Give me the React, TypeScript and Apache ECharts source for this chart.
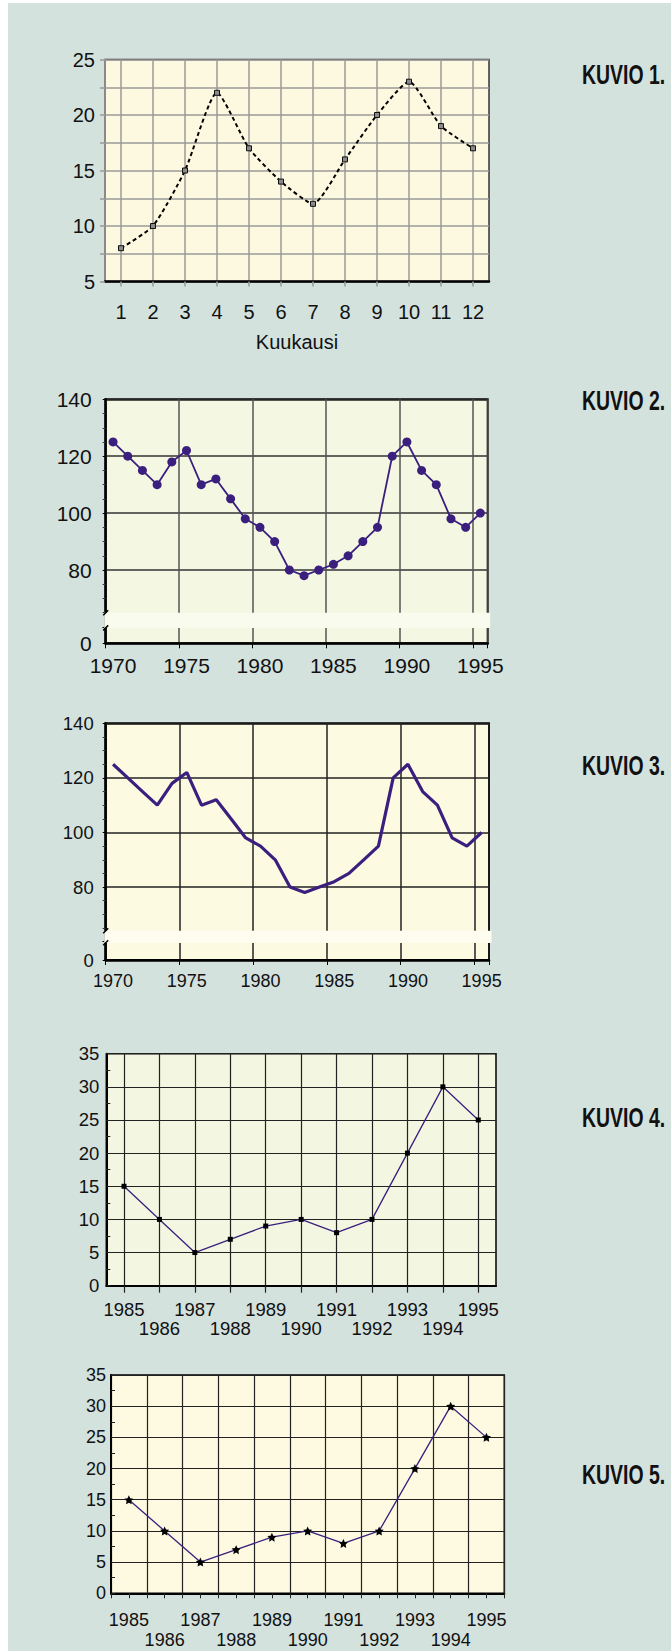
import React, { useEffect, useRef } from "react";
import * as echarts from "echarts";

// ---------- data ----------
const months = ["1", "2", "3", "4", "5", "6", "7", "8", "9", "10", "11", "12"];
const monthValues = [8, 10, 15, 22, 17, 14, 12, 16, 20, 23, 19, 17];
const monthAxisName = "Kuukausi";

const years7095 = [
  "1970", "1971", "1972", "1973", "1974", "1975", "1976", "1977", "1978", "1979",
  "1980", "1981", "1982", "1983", "1984", "1985", "1986", "1987", "1988", "1989",
  "1990", "1991", "1992", "1993", "1994", "1995",
];
const indexValues = [
  125, 120, 115, 110, 118, 122, 110, 112, 105, 98,
  95, 90, 80, 78, 80, 82, 85, 90, 95, 120,
  125, 115, 110, 98, 95, 100,
];
const indexUpperTicks = [80, 100, 120, 140];
const indexLowerTicks = [0];

const years8595 = ["1985", "1986", "1987", "1988", "1989", "1990", "1991", "1992", "1993", "1994", "1995"];
const rateValues = [15, 10, 5, 7, 9, 10, 8, 10, 20, 30, 25];

const titles = ["KUVIO 1.", "KUVIO 2.", "KUVIO 3.", "KUVIO 4.", "KUVIO 5."];

// ---------- layout / style ----------
const FONT = "'Liberation Sans', Arial, sans-serif";
const PURPLE = "#3b1f7e";
// grid order: c1, c2 upper, c2 lower, c3 upper, c3 lower, c4, c5
const grids = [
  { left: 105, top: 59.5, width: 384, height: 222, bg: "#fdf9e0", border: "#333", bw: 1.5 },
  { left: 105.7, top: 399.3, width: 382, height: 227.6, bg: "#f4f7e2", border: "#000", bw: 2 },
  { left: 105.7, top: 626.9, width: 382, height: 16.4, bg: "#f4f7e2", border: "#000", bw: 2 },
  { left: 105.7, top: 723.3, width: 383.3, height: 218.4, bg: "#fdfae2", border: "#000", bw: 2 },
  { left: 105.7, top: 941.7, width: 383.3, height: 18.3, bg: "#fdfae2", border: "#000", bw: 2 },
  { left: 106.3, top: 1053.7, width: 389.7, height: 232, bg: "#f3f6e1", border: "#000", bw: 1.5 },
  { left: 111, top: 1375, width: 393.3, height: 218.3, bg: "#fdfae1", border: "#000", bw: 1.5 },
];
const lowerMax2 = 5.76; // value span of the small lower panel of chart 2
const lowerMax3 = 6.7;
const breakTop2 = 65;
const breakTop3 = 64;
const titleY = [75, 401, 766, 1118, 1475];
const STAR = "path://M0,-10 L2.9,-4 9.5,-3.1 4.8,1.5 5.9,8.1 0,5 -5.9,8.1 -4.8,1.5 -9.5,-3.1 -2.9,-4 Z";

const lbl = (size: number, extra: any = {}) => ({
  fontFamily: FONT,
  fontSize: size,
  color: "#111",
  ...extra,
});

function buildOption() {
  const grid = grids.map((g) => ({
    left: g.left,
    top: g.top,
    width: g.width,
    height: g.height,
    show: true,
    backgroundColor: g.bg,
    borderColor: g.border,
    borderWidth: g.bw,
    containLabel: false,
    outerBoundsMode: "none",
  }));

  const stagger = (v: string, i: number) => (i % 2 === 1 ? "\n" + v : v);

  const yearsUpper = (gi: number, splitColor: string) => ({
    gridIndex: gi,
    type: "category",
    data: years7095,
    boundaryGap: true,
    axisLine: { show: false },
    axisTick: { show: false },
    axisLabel: { show: false },
    splitLine: { show: true, interval: 4, lineStyle: { color: splitColor, width: 1.5 } },
  });
  const yearsLower = (gi: number, splitColor: string, size: number, margin: number) => ({
    gridIndex: gi,
    type: "category",
    data: years7095,
    boundaryGap: true,
    axisLine: { show: true, lineStyle: { color: "#000", width: 2.5 } },
    axisTick: { show: true, interval: 4, length: 5, lineStyle: { color: "#000", width: 1 } },
    splitLine: { show: true, interval: 4, lineStyle: { color: splitColor, width: 1.5 } },
    axisLabel: lbl(size, { interval: 4, margin }),
  });

  const xAxis: any[] = [
    {
      gridIndex: 0,
      type: "category",
      data: months,
      boundaryGap: true,
      axisLine: { show: true, lineStyle: { color: "#000", width: 2.5 } },
      axisTick: { show: true, alignWithLabel: true, length: 5, lineStyle: { color: "#999", width: 1.5 } },
      splitLine: { show: true, alignWithLabel: true, lineStyle: { color: "#999", width: 1.5 } },
      axisLabel: lbl(20, { margin: 20 }),
      name: monthAxisName,
      nameLocation: "middle",
      nameGap: 50,
      nameTextStyle: lbl(20),
    },
    yearsUpper(1, "#555"),
    yearsLower(2, "#555", 21, 12),
    yearsUpper(3, "#222"),
    yearsLower(4, "#222", 18, 12),
    {
      gridIndex: 5,
      type: "category",
      data: years8595,
      boundaryGap: true,
      axisLine: { show: true, lineStyle: { color: "#000", width: 2 } },
      axisTick: { show: true, alignWithLabel: true, length: 7, lineStyle: { color: "#222", width: 1.2 } },
      splitLine: { show: true, alignWithLabel: true, lineStyle: { color: "#222", width: 1.2 } },
      axisLabel: lbl(18.5, { interval: 0, margin: 14, lineHeight: 19, formatter: stagger }),
    },
    {
      gridIndex: 6,
      type: "category",
      data: years8595,
      boundaryGap: true,
      axisLine: { show: true, lineStyle: { color: "#000", width: 2 } },
      axisTick: { show: true, length: 5, lineStyle: { color: "#222", width: 1 } },
      splitLine: { show: true, lineStyle: { color: "#222", width: 1.2 } },
      axisLabel: lbl(18, { interval: 0, margin: 17, lineHeight: 20, formatter: stagger }),
    },
    {
      gridIndex: 6,
      type: "category",
      data: years8595,
      boundaryGap: true,
      position: "bottom",
      axisLine: { show: false },
      axisTick: { show: true, alignWithLabel: true, length: 5, lineStyle: { color: "#222", width: 1 } },
      splitLine: { show: false },
      axisLabel: { show: false },
    },
  ];

  const upperY = (gi: number, size: number, margin: number, splitColor: string) => ({
    gridIndex: gi,
    type: "value",
    min: 60,
    max: 140,
    interval: 20,
    axisLine: { show: true, lineStyle: { color: "#000", width: 2.5 } },
    axisTick: { show: true, length: 3, lineStyle: { color: "#000", width: 1 } },
    minorTick: { show: true, splitNumber: 4, length: 3, lineStyle: { color: "#333", width: 1 } },
    splitLine: { show: true, lineStyle: { color: splitColor, width: 1.5 } },
    axisLabel: lbl(size, {
      margin,
      formatter: (v: number) => (indexUpperTicks.indexOf(v) >= 0 ? String(v) : ""),
    }),
  });
  const lowerY = (gi: number, max: number, size: number, margin: number) => ({
    gridIndex: gi,
    type: "value",
    min: 0,
    max,
    interval: max,
    axisLine: { show: true, lineStyle: { color: "#000", width: 2.5 } },
    axisTick: { show: true, length: 3, lineStyle: { color: "#000", width: 1 } },
    splitLine: { show: false },
    axisLabel: lbl(size, {
      margin,
      formatter: (v: number) => (indexLowerTicks.indexOf(v) >= 0 ? String(v) : ""),
    }),
  });

  const yAxis: any[] = [
    {
      gridIndex: 0,
      type: "value",
      min: 5,
      max: 25,
      interval: 2.5,
      axisLine: { show: true, lineStyle: { color: "#999", width: 1.5 } },
      axisTick: { show: true, length: 5, lineStyle: { color: "#999", width: 1.5 } },
      splitLine: { show: true, lineStyle: { color: "#999", width: 1.5 } },
      axisLabel: lbl(20, { margin: 10, formatter: (v: number) => (v % 5 === 0 ? String(v) : "") }),
    },
    upperY(1, 21, 14, "#333"),
    lowerY(2, lowerMax2, 21, 14),
    upperY(3, 18.5, 12, "#222"),
    lowerY(4, lowerMax3, 18.5, 12),
    {
      gridIndex: 5,
      type: "value",
      min: 0,
      max: 35,
      interval: 5,
      axisLine: { show: true, lineStyle: { color: "#000", width: 2 } },
      axisTick: { show: true, inside: true, length: 4, lineStyle: { color: "#222" } },
      minorTick: { show: true, splitNumber: 2, length: 4, lineStyle: { color: "#222" } },
      splitLine: { show: true, lineStyle: { color: "#222", width: 1.2 } },
      axisLabel: lbl(18.5, { margin: 7 }),
    },
    {
      gridIndex: 6,
      type: "value",
      min: 0,
      max: 35,
      interval: 5,
      axisLine: { show: true, lineStyle: { color: "#000", width: 2 } },
      axisTick: { show: true, inside: true, length: 4, lineStyle: { color: "#222" } },
      minorTick: { show: true, splitNumber: 2, length: 4, lineStyle: { color: "#222" } },
      splitLine: { show: true, lineStyle: { color: "#222", width: 1.2 } },
      axisLabel: lbl(18, { margin: 5 }),
    },
  ];

  const series: any[] = [
    {
      type: "line",
      xAxisIndex: 0,
      yAxisIndex: 0,
      data: monthValues,
      smooth: 0.2,
      symbol: "rect",
      symbolSize: 5,
      itemStyle: { color: "#8a8a8a", borderColor: "#111", borderWidth: 1 },
      lineStyle: { color: "#000", width: 2, type: [4, 3] },
      z: 5,
    },
    {
      type: "line",
      xAxisIndex: 1,
      yAxisIndex: 1,
      data: indexValues,
      symbol: "circle",
      symbolSize: 9,
      itemStyle: { color: PURPLE },
      lineStyle: { color: PURPLE, width: 1.8 },
      z: 5,
    },
    {
      type: "line",
      xAxisIndex: 3,
      yAxisIndex: 3,
      data: indexValues,
      symbol: "none",
      lineStyle: { color: PURPLE, width: 3.2 },
      z: 5,
    },
    {
      type: "line",
      xAxisIndex: 5,
      yAxisIndex: 5,
      data: rateValues,
      symbol: "rect",
      symbolSize: 5,
      itemStyle: { color: "#000" },
      lineStyle: { color: PURPLE, width: 1.3 },
      z: 5,
    },
    {
      type: "line",
      xAxisIndex: 6,
      yAxisIndex: 6,
      data: rateValues,
      symbol: STAR,
      symbolSize: 9,
      itemStyle: { color: "#000" },
      lineStyle: { color: PURPLE, width: 1.3 },
      z: 5,
    },
  ];

  return { animation: false, grid, xAxis, yAxis, series };
}

export default function App() {
  const ref = useRef<HTMLDivElement>(null);
  useEffect(() => {
    if (!ref.current) return;
    const chart = echarts.init(ref.current, null, { renderer: "svg" });
    chart.setOption(buildOption() as any);

    const graphic: any[] = titles.map((t, i) => ({
      type: "text",
      x: 582,
      y: titleY[i],
      scaleX: 0.72,
      z: 100,
      style: {
        text: t,
        fontFamily: FONT,
        fontSize: 27,
        fontWeight: "bold",
        fill: "#111",
        verticalAlign: "middle",
        align: "left",
      },
    }));

    const breakInfo = [
      { up: 1, low: 2, top: breakTop2, max: lowerMax2, color: "#f9fbee" },
      { up: 3, low: 4, top: breakTop3, max: lowerMax3, color: "#fefdf0" },
    ];
    breakInfo.forEach(({ up, low, top, max, color }) => {
      const yUp = chart.convertToPixel({ yAxisIndex: up } as any, top) as number;
      const yDn = chart.convertToPixel({ yAxisIndex: low } as any, max) as number;
      const g = grids[up];
      if (typeof yUp !== "number" || typeof yDn !== "number" || isNaN(yUp) || isNaN(yDn)) return;
      graphic.push({
        type: "rect",
        z: 50,
        shape: { x: g.left - 1.5, y: yUp, width: g.width + 4, height: yDn - yUp + 1.2 },
        style: { fill: color },
      });
      [yUp, yDn + 1].forEach((yy) => {
        graphic.push({
          type: "line",
          z: 60,
          shape: { x1: g.left - 2.5, y1: yy + 2.5, x2: g.left + 2.5, y2: yy - 2.5 },
          style: { stroke: "#000", lineWidth: 1.5 },
        });
      });
    });

    chart.setOption({ graphic } as any);
    return () => chart.dispose();
  }, []);

  return (
    <div style={{ position: "absolute", left: 0, top: 0, width: 671, height: 1651 }}>
      <div style={{ position: "absolute", left: 8, top: 3, right: 0, bottom: 0, background: "#d4e2de" }} />
      <div ref={ref} style={{ position: "absolute", left: 0, top: 0, width: 671, height: 1651 }} />
    </div>
  );
}
